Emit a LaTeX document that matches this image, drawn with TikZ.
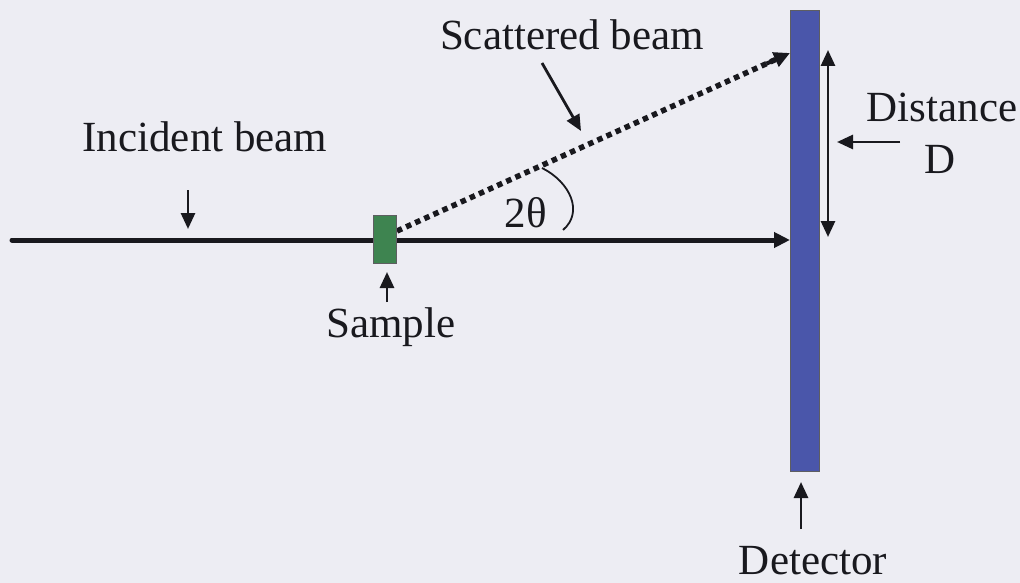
\documentclass[tikz,border=0pt]{standalone}
\usepackage{fontspec}
\setmainfont{Liberation Serif}
\usetikzlibrary{arrows.meta,calc}
\definecolor{bgc}{RGB}{237,237,243}
\definecolor{samplegreen}{RGB}{62,132,80}
\definecolor{detblue}{RGB}{74,86,170}
\definecolor{ink}{RGB}{25,25,30}
\tikzset{
  lbl/.style={font=\fontsize{43}{50}\selectfont, text=ink, anchor=base, inner sep=0pt},
  pointer/.style={draw=ink, line width=2.8pt, -{Triangle[length=16pt,width=14pt]}},
  beam/.style={draw=ink, line width=5pt},
  scat/.style={draw=ink, line width=5.5pt, dash pattern=on 5.5pt off 4.5pt},
}
\begin{document}
\begin{tikzpicture}[x=1pt,y=-1pt]
\useasboundingbox (0,0) rectangle (1020,583);
\fill[bgc] (0,0) rectangle (1020,583);

% detector and sample
\node[draw=ink!70, line width=1pt, fill=detblue, minimum width=29pt, minimum height=461pt, inner sep=0pt] (det) at (804.5,241) {};
\coordinate (src) at (12,240);
\coordinate (hit) at (790,240);
\coordinate (shit) at (790,53);
\coordinate (sout) at (397,231);

% beams
\draw[beam, line cap=round] (src) -- (760,240);
\draw[ink, line width=5pt, -{Triangle[length=16pt,width=15pt]}] (755,240) -- (hit);
\draw[scat] (sout) -- ($(sout)!0.965!(shit)$);
\draw[ink, line width=4pt, -{Triangle[length=16pt,width=15pt]}] ($(sout)!0.94!(shit)$) -- (shit);

\node[draw=ink!70, line width=1pt, fill=samplegreen, minimum width=23pt, minimum height=48pt, inner sep=0pt] (sample) at (384.5,239) {};

% angle arc
\coordinate (arcA) at (542,168);
\coordinate (arcB) at (563,230);
\draw[ink, line width=1.8pt] (arcA) .. controls (570,182) and (584,212) .. (arcB);

% labels
\node[lbl] (tscat) at (572,50) {Scattered beam};
\node[lbl] (tinc) at (205,152) {Incident beam};
\node[lbl] (tsam) at (391,337) {Sample};
\node[lbl] (ttheta) at (526,227) {2θ};
\node[lbl] (tdist) at (942,122) {Distance};
\node[lbl] (tD) at (940,173) {D};
\node[lbl] (tdet) at (813,574) {Detector};

% pointers
\coordinate (pscat0) at (542,63);
\coordinate (pscat1) at (581,131);
\draw[pointer] (pscat0) -- (pscat1);
\coordinate (pinc0) at (188,190);
\coordinate (pinc1) at (188,229);
\draw[pointer] (pinc0) -- (pinc1);
\coordinate (psam0) at (387,302);
\coordinate (psam1) at (387,272);
\draw[pointer] (psam0) -- (psam1);
\coordinate (pdet0) at (801,529);
\coordinate (pdet1) at (801,482);
\draw[pointer] (pdet0) -- (pdet1);
\coordinate (pdis0) at (900,142);
\coordinate (pdis1) at (837,142);
\draw[pointer] (pdis0) -- (pdis1);
\coordinate (dtop) at (828,50);
\coordinate (dbot) at (828,237);
\draw[draw=ink, line width=2.8pt, {Triangle[length=16pt,width=14pt]}-{Triangle[length=16pt,width=14pt]}] (dtop) -- (dbot);
\end{tikzpicture}
\end{document}
